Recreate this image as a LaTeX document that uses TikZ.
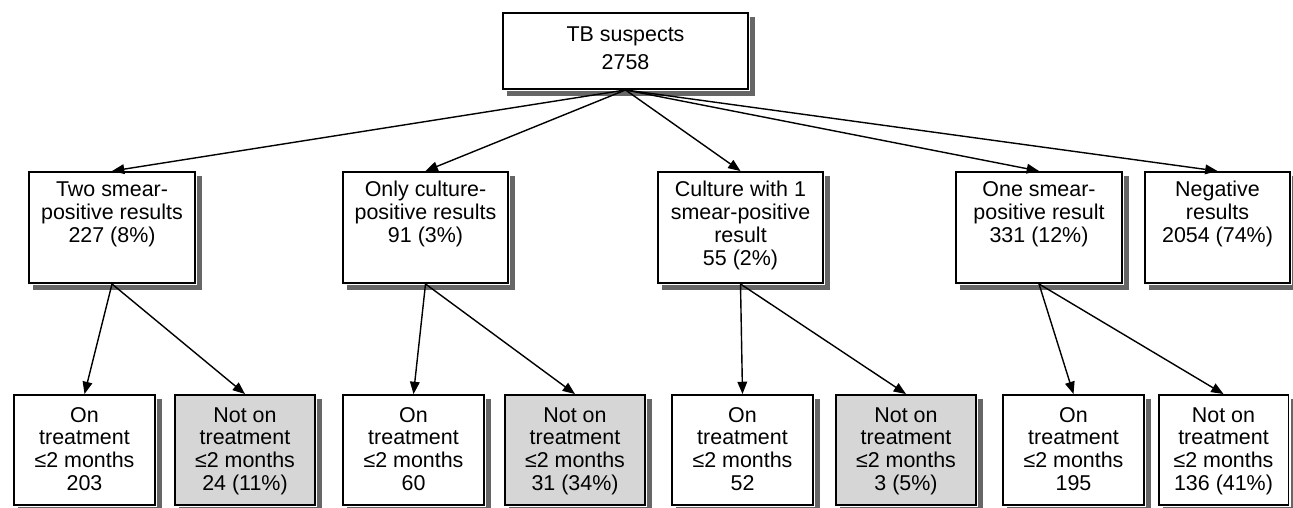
\documentclass[tikz,border=0pt]{standalone}
\usepackage{fontspec}
\setmainfont{Liberation Sans}
\usetikzlibrary{arrows.meta,calc}

\newcommand{\contenu}[4]{\parbox[c][#2][t]{#1}{\centering\rule{0pt}{#3}#4}}

\tikzset{
  caja/.style={draw, line width=1.1pt, fill=white, inner sep=0pt,
    font=\fontsize{12.2}{13}\selectfont},
  gris/.style={caja, fill=black!16},
  ombre/.style={draw=black!60, line width=0.09cm},
  fleche/.style={-{Triangle[length=7pt,width=5.5pt]}, line width=0.8pt}
}

\begin{document}
\begin{tikzpicture}[x=0.02cm,y=-0.02cm]
\useasboundingbox (0,0) rectangle (1293,507);

% racine
\node[caja] (top) at (625.5,51) {\contenu{4.9cm}{1.52cm}{16pt}{TB suspects\\[3pt]2758}};

% niveau 1
\node[caja] (m1) at (112,227.5) {\contenu{3.32cm}{2.22cm}{14.2pt}{Two smear-\\positive results\\227 (8\%)}};
\node[caja] (m2) at (425.5,227.5) {\contenu{3.3cm}{2.22cm}{14.2pt}{Only culture-\\positive results\\91 (3\%)}};
\node[caja] (m3) at (740.5,227.5) {\contenu{3.3cm}{2.22cm}{14.2pt}{Culture with 1\\smear-positive\\result\\55 (2\%)}};
\node[caja] (m4) at (1039,227.5) {\contenu{3.32cm}{2.22cm}{14.2pt}{One smear-\\positive result\\331 (12\%)}};
\node[caja] (m5) at (1217.5,227.5) {\contenu{2.9cm}{2.22cm}{14.2pt}{Negative\\results\\2054 (74\%)}};

% niveau 2
\foreach \n/\x/\w/\st/\a/\v in {b1/84.5/2.82cm/caja/On/203, b2/245/2.8cm/gris/Not on/24 (11\%),
    b3/413.5/2.82cm/caja/On/60, b4/575/2.8cm/gris/Not on/31 (34\%),
    b5/742.5/2.82cm/caja/On/52, b6/906/2.8cm/gris/Not on/3 (5\%),
    b7/1073.5/2.82cm/caja/On/195, b8/1223.5/2.6cm/caja/Not on/136 (41\%)}
  \node[\st] (\n) at (\x,450) {\contenu{\w}{2.2cm}{15.4pt}{\a\\treatment\\≤2 months\\\v}};

% ombres
\foreach \n in {top,m1,m2,m3,m4,m5,b1,b2,b3,b4,b5,b6,b7,b8}
  \draw[ombre] ($(\n.north east)+(3.5,5)$) -- ($(\n.south east)+(3.5,3.5)$) -- ($(\n.south west)+(5,3.5)$);

\foreach \m in {m1,m2,m3,m4,m5}
  \draw[fleche] (top.south) -- (\m.north);

\draw[fleche] (m1.south) -- (b1.north);
\draw[fleche] (m1.south) -- (b2.north);
\draw[fleche] (m2.south) -- (b3.north);
\draw[fleche] (m2.south) -- (b4.north);
\draw[fleche] (m3.south) -- (b5.north);
\draw[fleche] (m3.south) -- (b6.north);
\draw[fleche] (m4.south) -- (b7.north);
\draw[fleche] (m4.south) -- (b8.north);
\end{tikzpicture}
\end{document}
